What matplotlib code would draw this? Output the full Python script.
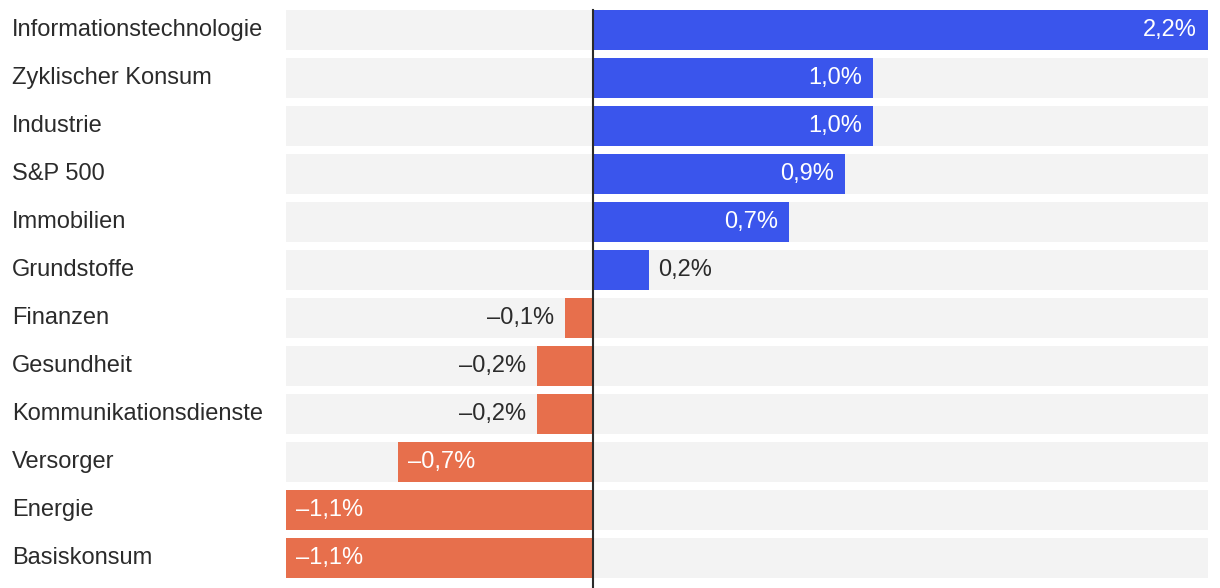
import matplotlib.pyplot as plt

# Daten
sektoren = ['Informationstechnologie', 'Zyklischer Konsum', 'Industrie', 'S&P 500',
            'Immobilien', 'Grundstoffe', 'Finanzen', 'Gesundheit',
            'Kommunikationsdienste', 'Versorger', 'Energie', 'Basiskonsum']
werte = [2.2, 1.0, 1.0, 0.9, 0.7, 0.2, -0.1, -0.2, -0.2, -0.7, -1.1, -1.1]

blau = '#3a55ec'
orange = '#e76f4c'
grau = '#f3f3f3'
xmin, xmax = -1.1, 2.2
fs = 17

plt.rcParams['font.family'] = ['Liberation Sans', 'DejaVu Sans']

fig = plt.figure(figsize=(12.2, 5.88), dpi=100)
# axes: x 286..1208, y 6..582 (pixels)
ax = fig.add_axes([286 / 1220, 1 - 582 / 588, 922 / 1220, 576 / 588])

n = len(sektoren)
y = list(range(n))
h = 40 / 48

ax.barh(y, [xmax - xmin] * n, left=xmin, height=h, color=grau, zorder=1)
farben = [blau if v >= 0 else orange for v in werte]
ax.barh(y, werte, height=h, color=farben, zorder=2)

def fmt(v):
    s = f'{abs(v):.1f}%'.replace('.', ',')
    return ('\u2013' + s) if v < 0 else s

for i, v in enumerate(werte):
    txt = fmt(v)
    innen = abs(v) >= 0.5
    if v >= 0:
        if innen:
            ax.annotate(txt, (v, i), xytext=(-11, 0), textcoords='offset pixels',
                        ha='right', va='center', color='white', fontsize=fs, zorder=3)
        else:
            ax.annotate(txt, (v, i), xytext=(9, 0), textcoords='offset pixels',
                        ha='left', va='center', color='#2b2b2b', fontsize=fs, zorder=3)
    else:
        if innen:
            ax.annotate(txt, (v, i), xytext=(10, 0), textcoords='offset pixels',
                        ha='left', va='center', color='white', fontsize=fs, zorder=3)
        else:
            ax.annotate(txt, (v, i), xytext=(-11, 0), textcoords='offset pixels',
                        ha='right', va='center', color='#2b2b2b', fontsize=fs, zorder=3)

# Kategorien links
for i, s in enumerate(sektoren):
    ax.annotate(s, (0, i), xycoords=('figure pixels', 'data'), xytext=(12, 0),
                textcoords='offset pixels', ha='left', va='center',
                color='#2b2b2b', fontsize=fs, annotation_clip=False)

ax.plot([0, 0], [-0.5 + (1 - h) / 2, n - 0.5 + 0.2], color='#2b2b2b',
        linewidth=1.5, zorder=4, clip_on=False)

ax.set_xlim(xmin, xmax)
ax.set_ylim(n - 0.5, -0.5)
ax.axis('off')

fig.savefig('out.png', dpi=100)
